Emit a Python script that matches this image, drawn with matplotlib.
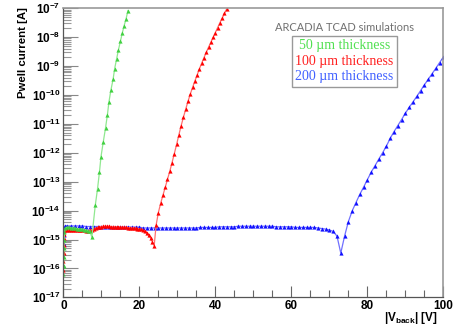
import math
import matplotlib
matplotlib.use("Agg")
import matplotlib.pyplot as plt
from matplotlib.ticker import FixedLocator, NullFormatter, FuncFormatter, MultipleLocator

plt.rcParams['mathtext.fontset'] = 'custom'
plt.rcParams['mathtext.bf'] = 'Liberation Sans:bold'
plt.rcParams['mathtext.rm'] = 'Liberation Sans:bold'

# |Vback| [V] and log10(Pwell current [A])

# 50 um thickness
v_50 = [0.0, 0.05, 0.1, 0.15, 0.2, 0.3, 0.5, 1.0, 1.5, 2.0, 2.5, 3.0, 3.5, 4.0,
        4.5, 5.0, 5.5, 6.0, 6.5, 7.0, 7.5, 8.4, 9.0, 9.5, 9.9, 10.5, 11.1, 11.6,
        12.0, 12.5, 13.1, 13.5, 14.0, 14.5, 15.0, 15.5, 16.0, 16.5, 17.0]
log_i_50 = [-16.2, -15.9, -15.6, -15.3, -15.0, -14.75, -14.6, -14.58, -14.58, -14.6,
            -14.6, -14.61, -14.62, -14.63, -14.64, -14.65, -14.66, -14.68, -14.7,
            -14.72, -14.92, -13.82, -13.24, -12.67, -12.14, -11.63, -11.14, -10.68,
            -10.24, -9.84, -9.45, -9.09, -8.76, -8.44, -8.15, -7.86, -7.60, -7.37, -7.08]

# 100 um thickness
v_100 = [0.0, 0.03, 0.06, 0.1, 0.15, 0.2, 0.3,
         0.5, 1.0, 1.5, 2.0, 2.5, 3.0, 3.5, 4.0, 4.5, 5.0, 5.5, 6.0, 6.5, 7.0, 7.5,
         8.0, 8.5, 9.0, 9.5, 10.0, 10.5, 11.0, 11.5, 12.0, 12.5, 13.0, 13.5, 14.0,
         14.5, 15.0, 15.5, 16.0, 16.5, 17.0, 17.5, 18.0, 18.5, 19.0, 19.5, 20.0,
         20.5, 21.0, 21.5, 22.0, 22.5, 23.0, 23.4, 23.9,
         24.4, 25.0, 25.6, 26.2, 26.8, 27.4, 28.0, 28.6, 29.2, 29.8, 30.4, 31.0,
         31.6, 32.2, 32.8, 33.4, 34.0, 34.6, 35.2, 35.8, 36.4, 37.0, 37.6, 38.2,
         38.8, 39.4, 40.0, 40.6, 41.2, 41.8, 42.4, 43.0]
log_i_100 = [-16.05, -15.75, -15.45, -15.2, -14.95, -14.8, -14.7,
             -14.68, -14.66, -14.66, -14.66, -14.67, -14.67, -14.67, -14.67, -14.68,
             -14.68, -14.68, -14.69, -14.69, -14.68, -14.66,
             -14.63, -14.60, -14.58, -14.56, -14.55, -14.54, -14.54, -14.54, -14.54,
             -14.55, -14.55, -14.55, -14.56, -14.56, -14.57, -14.57, -14.58, -14.58,
             -14.59, -14.59, -14.60, -14.60, -14.61, -14.62, -14.63,
             -14.65, -14.68, -14.72, -14.77, -14.84, -14.96, -15.08, -15.22,
             -14.51, -14.07, -13.75, -13.47, -13.20, -12.92, -12.64, -12.34, -12.03,
             -11.71, -11.38, -11.06, -10.77, -10.49, -10.22, -9.97, -9.74, -9.52,
             -9.31, -9.10, -8.90, -8.71, -8.53, -8.35, -8.18, -8.01, -7.84, -7.67,
             -7.50, -7.34, -7.18, -7.02]

# 200 um thickness
v_200 = [0.0, 0.05, 0.1, 0.2, 0.5,
         1, 2, 3, 4, 5, 6, 7, 8, 9, 10, 11, 12, 13, 14, 15, 16, 17, 18, 19, 20,
         21, 22, 23, 24, 25, 26, 27, 28, 29, 30, 31, 32, 33, 34, 35, 36, 37, 38,
         39, 40, 41, 42, 43, 44, 45, 46, 47, 48, 49, 50, 51, 52, 53, 54, 55, 56,
         57, 58, 59, 60, 61, 62, 63, 64, 65, 66, 67, 68, 69, 70, 71, 72, 73, 74,
         75, 76, 77, 78, 79, 80, 81, 82, 83, 84, 85, 86, 87, 88, 89, 90, 91, 92,
         93, 94, 95, 96, 97, 98, 99, 100]
log_i_200 = [-15.45, -15.15, -14.85, -14.6, -14.52,
             -14.53, -14.53, -14.53, -14.53, -14.53, -14.55, -14.55, -14.55, -14.55,
             -14.55, -14.57, -14.57, -14.57, -14.57, -14.57, -14.57, -14.57, -14.57,
             -14.57, -14.57, -14.60, -14.60, -14.60, -14.60, -14.60, -14.60, -14.60,
             -14.60, -14.60, -14.60, -14.60, -14.60, -14.60, -14.60, -14.60, -14.58,
             -14.58, -14.58, -14.58, -14.58, -14.56, -14.56, -14.56, -14.56, -14.56,
             -14.54, -14.54, -14.54, -14.54, -14.54, -14.54, -14.54, -14.54, -14.54,
             -14.54, -14.56, -14.56, -14.56, -14.56, -14.56, -14.58, -14.58, -14.58,
             -14.58, -14.58, -14.58, -14.60, -14.62, -14.64, -14.67, -14.72, -14.88,
             -15.47, -14.88, -14.38, -14.01, -13.72, -13.44, -13.19, -12.93, -12.67,
             -12.45, -12.22, -12.00, -11.77, -11.50, -11.27, -11.06, -10.85, -10.63,
             -10.43, -10.24, -10.05, -9.85, -9.65, -9.46, -9.27, -9.08, -8.88, -8.69]

series = [
    (v_200, log_i_200, '#1010ff', '#7070ff'),
    (v_100, log_i_100, '#ff0000', '#ff7070'),
    (v_50, log_i_50, '#40d040', '#90e890'),
]

legend_lines = ['50 \u00b5m thickness', '100 \u00b5m thickness', '200 \u00b5m thickness']
legend_colors = ['#50e050', '#ff2020', '#4060ff']

fig = plt.figure(figsize=(4.59, 3.30), dpi=100)
ax = fig.add_axes([0.138, 0.099, 0.828, 0.876])

for v, logi, mcol, lcol in series:
    cur = [10 ** x for x in logi]
    ax.plot(v, cur, color=lcol, lw=0.9, marker='^', markersize=3.0,
            markerfacecolor=mcol, markeredgecolor=mcol, markeredgewidth=0)

ax.set_yscale('log')
ax.set_xlim(0, 100)
ax.set_ylim(1e-17, 1e-7)

ax.yaxis.set_major_locator(FixedLocator([10.0 ** e for e in range(-17, -6)]))
ax.yaxis.set_minor_locator(FixedLocator([k * 10.0 ** e for e in range(-17, -7) for k in range(2, 10)]))
ax.yaxis.set_major_formatter(FuncFormatter(lambda y, p: '$\\mathbf{10^{%d}}$' % round(math.log10(y))))
ax.yaxis.set_minor_formatter(NullFormatter())
ax.xaxis.set_major_locator(MultipleLocator(20))
ax.xaxis.set_minor_locator(MultipleLocator(5))

ax.tick_params(axis='y', which='major', direction='in', length=11, width=0.8,
               color='#888888', labelsize=8.5, pad=2)
ax.tick_params(axis='y', which='minor', direction='in', length=6, width=0.8, color='#999999')
ax.tick_params(axis='x', which='major', direction='in', length=8, width=0.8,
               color='#666666', labelsize=8.5, pad=2)
ax.tick_params(axis='x', which='minor', direction='in', length=5, width=0.8, color='#666666')
for lab in ax.get_xticklabels() + ax.get_yticklabels():
    lab.set_fontfamily('Liberation Sans')
    lab.set_fontweight('bold')

for side in ['top', 'right']:
    ax.spines[side].set_color('#999999')
    ax.spines[side].set_linewidth(1.2)
for side in ['left', 'bottom']:
    ax.spines[side].set_color('#555555')
    ax.spines[side].set_linewidth(0.9)

fig.text(0.05, 0.978, 'Pwell current [A]', rotation=90, ha='center', va='top',
         family='Liberation Sans', weight='bold', fontsize=8.2)
fig.text(0.955, 0.012, '|V$_{\\mathbf{back}}$| [V]', ha='right', va='bottom',
         family='Liberation Sans', weight='bold', fontsize=8.5)

ax.text(0.74, 0.935, 'ARCADIA TCAD simulations', transform=ax.transAxes, ha='center',
        va='center', family='Lato', fontsize=8, color='#707070')
box = plt.Rectangle((291.7 / 459, 1 - 87.3 / 330), (397.3 - 291.7) / 459, (87.3 - 35.7) / 330,
                    transform=fig.transFigure, fill=False, edgecolor='#999999', lw=1.0)
fig.patches.append(box)
for i, (t, c) in enumerate(zip(legend_lines, legend_colors)):
    fig.text(344.5 / 459, 1 - (46 + 15.3 * i) / 330, t, ha='center', va='center',
             family='Liberation Serif', fontsize=10, color=c)

fig.savefig('out.png', dpi=100)
